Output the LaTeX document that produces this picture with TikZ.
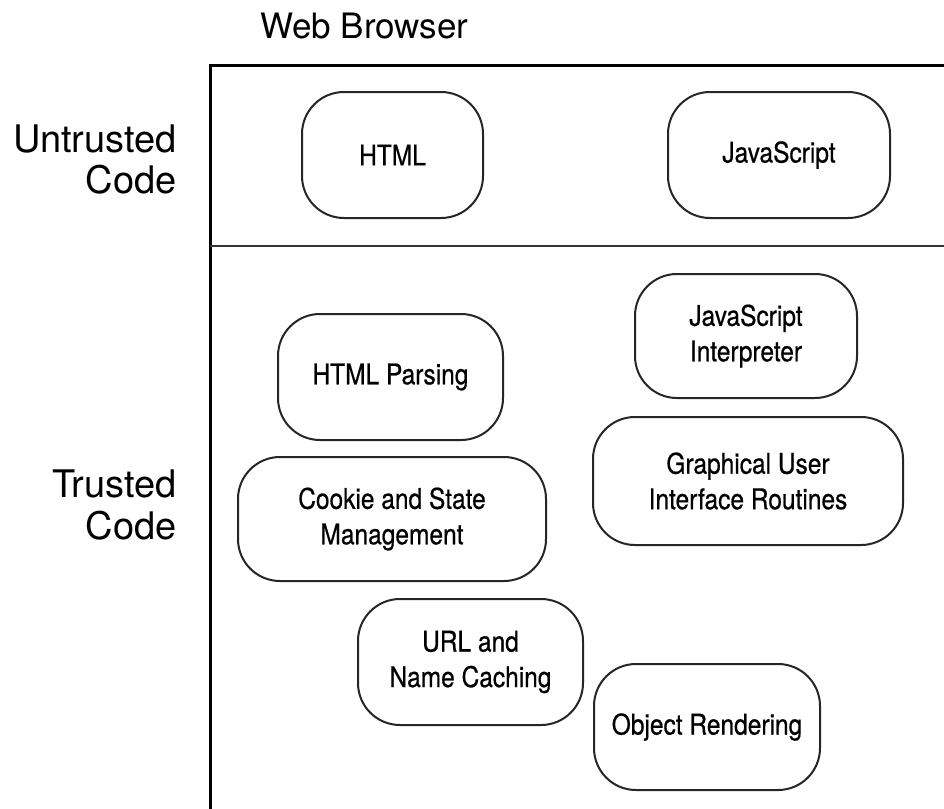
\documentclass[tikz,border=0pt]{standalone}
\usepackage{fontspec}
\setmainfont{TeX Gyre Heros}
\newfontfamily\cndfont[FakeStretch=0.86,FakeBold=0.6]{TeX Gyre Heros}
\begin{document}
\begin{tikzpicture}[x=1pt,y=-1pt,
  comp/.style={draw=black!85, line width=2pt, rounded corners=42pt, inner sep=0pt,
    align=center, font=\cndfont\fontsize{28.5}{35.5}\selectfont},
  lab/.style={inner sep=0pt, anchor=base east, font=\fontsize{38}{43}\selectfont}]
\useasboundingbox (0,0) rectangle (944,808);
\fill[white] (0,0) rectangle (944,808);
% frame
\draw[line width=3pt] (210,65) rectangle (980,810);
\coordinate (sepL) at (210,246);
\coordinate (sepR) at (944,246);
\draw[line width=1.6pt, black!80] (sepL) -- (sepR);
% titles
\node[inner sep=0pt, anchor=base west, font=\fontsize{35}{40}\selectfont] (web) at (260,38) {Web Browser};
\node[lab] (unt1) at (177,152) {Untrusted};
\node[lab] (unt2) at (177,193) {Code};
\node[lab] (tr1) at (177,497) {Trusted};
\node[lab] (tr2) at (177,539) {Code};
% components
\node[comp, minimum width=181pt, minimum height=126pt] (html) at (392.5,155) {HTML};
\node[comp, minimum width=222pt, minimum height=126pt] (js) at (779,155) {JavaScript};
\node[comp, minimum width=222pt, minimum height=124pt] (jsi) at (746,336) {JavaScript\\Interpreter};
\node[comp, minimum width=225pt, minimum height=126pt] (hp) at (390.5,377) {HTML Parsing};
\node[comp, minimum width=310pt, minimum height=128pt] (gui) at (748,481) {Graphical User\\Interface Routines};
\node[comp, minimum width=308pt, minimum height=124pt] (cookie) at (392,519) {Cookie and State\\Management};
\node[comp, minimum width=225pt, minimum height=126pt] (url) at (470.5,662) {URL and\\Name Caching};
\node[comp, minimum width=226pt, minimum height=126pt] (obj) at (707,727) {Object Rendering};
\end{tikzpicture}
\end{document}
